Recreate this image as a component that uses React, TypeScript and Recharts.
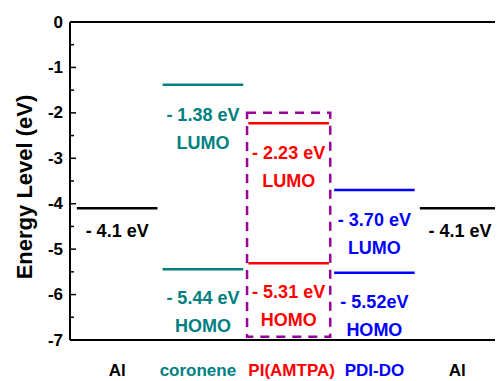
import React from 'react';
import {
    ComposedChart, XAxis, YAxis, ReferenceLine, ReferenceArea, Label
} from 'recharts';

const categories = ['Al', 'coronene', 'PI(AMTPA)', 'PDI-DO', 'Al'];
const categoryColors = ['#000000', '#008080', '#FF0000', '#0000FF', '#000000'];
const workFunction = [-4.1, null, null, null, -4.1];
const workFunctionLabels = ['- 4.1 eV', '', '', '', '- 4.1 eV'];
const lumoValues = [null, -1.38, -2.23, -3.70, null];
const lumoLabels = ['', '- 1.38 eV', '- 2.23 eV', '- 3.70 eV', ''];
const homoValues = [null, -5.44, -5.31, -5.52, null];
const homoLabels = ['', '- 5.44 eV', '- 5.31 eV', '- 5.52eV', ''];
const boxTop = -2.0;
const boxBottom = -6.93;
const yTicks = [0, -0.5, -1, -1.5, -2, -2.5, -3, -3.5, -4, -4.5, -5, -5.5, -6, -6.5, -7];
const xTicks = [1, 2, 3, 4, 5];

const FONT = 'Arial, "Liberation Sans", sans-serif';
const HALF = 0.47;
// small nudges so the bottom names don't run into each other
const NAME_SHIFT = [0, -5, 3, 0, -3];

const positions = categories.map((name, i) => ({ x: i + 1, name }));

function levelLabel(lines: string[], color: string, offsets: number[]) {
    return (props: any) => {
        const vb = props.viewBox || {};
        const cx = (vb.x || 0) + (vb.width || 0) / 2;
        const y = vb.y || 0;
        return (
            <g>
                {lines.map((t, k) => (
                    <text key={k} x={cx} y={y + offsets[k]} textAnchor="middle" dominantBaseline="central"
                        fill={color} fontFamily={FONT} fontWeight="bold" fontSize={18}>{t}</text>
                ))}
            </g>
        );
    };
}

const YTick = (props: any) => {
    const { x, y, payload } = props;
    const major = Number.isInteger(payload.value);
    return (
        <g>
            <line x1={x} x2={x + (major ? 6 : 4)} y1={y} y2={y} stroke="#000" strokeWidth={1.5} />
            {major && (
                <text x={x - 7} y={y} textAnchor="end" dominantBaseline="central" fill="#000"
                    fontFamily={FONT} fontWeight="bold" fontSize={17}>{payload.value}</text>
            )}
        </g>
    );
};

const XTick = (props: any) => {
    const { x, y, payload } = props;
    const i = payload.value - 1;
    return (
        <text x={x + NAME_SHIFT[i]} y={y + 30} textAnchor="middle" dominantBaseline="central"
            fill={categoryColors[i]} fontFamily={FONT} fontWeight="bold" fontSize={17}>{categories[i]}</text>
    );
};

export default function App() {
    return (
        <ComposedChart width={495} height={373} data={positions}
            margin={{ top: 14, right: 0, bottom: 0, left: 0 }}>
            <XAxis dataKey="x" type="number" domain={[0.45, 5.5]} ticks={xTicks} allowDataOverflow
                height={41} tickLine={false} tickSize={0} tickMargin={0} tick={<XTick />}
                axisLine={{ stroke: '#000', strokeWidth: 2 }} />
            <YAxis type="number" domain={[-7, 0]} ticks={yTicks} interval={0} width={62} allowDataOverflow
                tickLine={false} tickSize={0} tickMargin={0} tick={<YTick />}
                axisLine={{ stroke: '#000', strokeWidth: 2 }}>
                <Label content={(p: any) => {
                    const vb = p.viewBox || {};
                    const cx = (vb.x || 0) + 16;
                    const cy = (vb.y || 0) + (vb.height || 0) / 2 + 6;
                    return (
                        <text x={cx} y={cy} transform={`rotate(-90 ${cx} ${cy})`} textAnchor="middle"
                            dominantBaseline="central" fill="#000" fontFamily={FONT} fontWeight="bold"
                            fontSize={22}>Energy Level (eV)</text>
                    );
                }} />
            </YAxis>
            <ReferenceLine y={0} stroke="#000" strokeWidth={2} />
            <ReferenceArea x1={3 - 0.485} x2={3 + 0.485} y1={boxBottom} y2={boxTop} fill="none"
                fillOpacity={0} stroke="#990099" strokeWidth={2.5} strokeDasharray="9 7" />
            {workFunction.map((v, i) => v === null ? null : (
                <ReferenceLine key={`wf${i}`} segment={[{ x: i + 1 - HALF, y: v }, { x: i + 1 + HALF, y: v }]}
                    stroke={categoryColors[i]} strokeWidth={2.5}
                    label={levelLabel([workFunctionLabels[i]], categoryColors[i], [23])} />
            ))}
            {lumoValues.map((v, i) => v === null ? null : (
                <ReferenceLine key={`l${i}`} segment={[{ x: i + 1 - HALF, y: v }, { x: i + 1 + HALF, y: v }]}
                    stroke={categoryColors[i]} strokeWidth={2.5}
                    label={levelLabel([lumoLabels[i], 'LUMO'], categoryColors[i], [30, 58])} />
            ))}
            {homoValues.map((v, i) => v === null ? null : (
                <ReferenceLine key={`h${i}`} segment={[{ x: i + 1 - HALF, y: v }, { x: i + 1 + HALF, y: v }]}
                    stroke={categoryColors[i]} strokeWidth={2.5}
                    label={levelLabel([homoLabels[i], 'HOMO'], categoryColors[i], [29, 57])} />
            ))}
        </ComposedChart>
    );
}
